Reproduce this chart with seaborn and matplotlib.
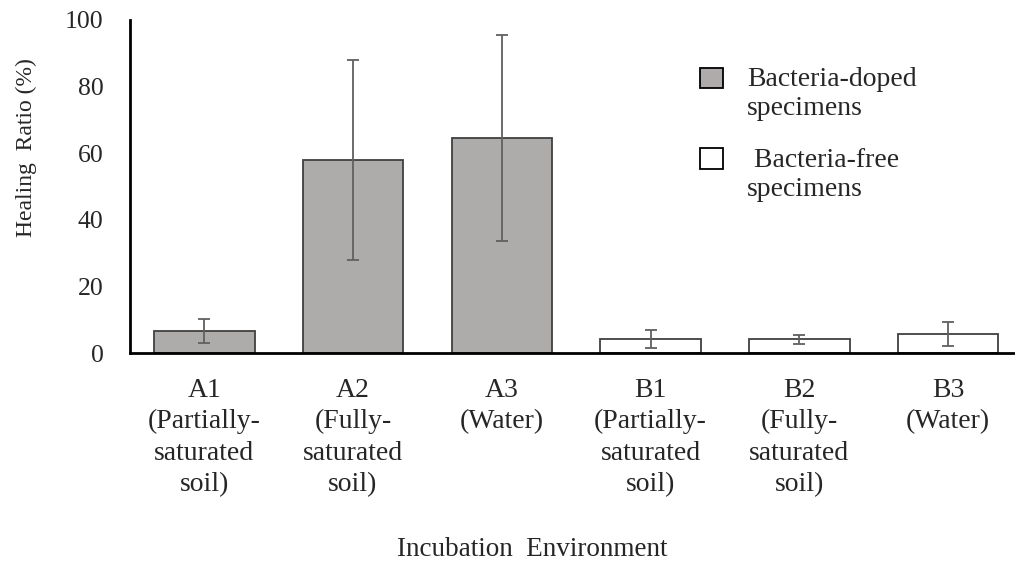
import matplotlib.pyplot as plt
import matplotlib.patches as mpatches
from matplotlib.legend_handler import HandlerPatch
import seaborn as sns
import pandas as pd
import numpy as np

categories = ["A1\n(Partially-\nsaturated\nsoil)", "A2\n(Fully-\nsaturated\nsoil)", "A3\n(Water)",
              "B1\n(Partially-\nsaturated\nsoil)", "B2\n(Fully-\nsaturated\nsoil)", "B3\n(Water)"]
groups = ["doped"] * 3 + ["free"] * 3
group_labels = ["Bacteria-doped\nspecimens", " Bacteria-free\nspecimens"]
healing = [6.6, 58.0, 64.5, 4.2, 4.1, 5.6]
err = [3.6, 30.0, 31.0, 2.6, 1.3, 3.6]

DOPED_COLOR = "#aeabaa"
FREE_COLOR = "#ffffff"
EDGE = "#404040"
FS = 20

sns.set_style("white")
plt.rcParams["font.family"] = ["Liberation Serif", "DejaVu Serif"]

df = pd.DataFrame({"cat": categories, "group": groups, "val": healing})

fig = plt.figure(figsize=(10.15, 5.63), dpi=100)
ax = fig.add_axes([0.128, 0.373, 0.872, 0.592])

sns.barplot(
    data=df, x="cat", y="val", hue="group",
    palette=[DOPED_COLOR, FREE_COLOR], dodge=False, legend=False,
    width=0.675, edgecolor=EDGE, linewidth=1.3, errorbar=None, ax=ax
)
ax.errorbar(np.arange(len(healing)), healing, yerr=err, fmt="none",
            ecolor="#606060", elinewidth=1.3, capsize=4.3, capthick=1.3)

ax.set_xlim(-0.5, 5.45)
ax.set_ylim(0, 100)
ax.set_yticks(range(0, 101, 20))

# labels centred under bars, tick marks between categories
ax.set_xticks(range(len(categories)))
ax.set_xticklabels(categories, linespacing=1.33)
ax.set_xticks(np.arange(-0.5, 5.5, 1), minor=True)
ax.tick_params(axis="x", which="major", length=0, pad=18, labelsize=FS)
ax.tick_params(axis="x", which="minor", length=7, width=2, direction="out", color="black")
ax.tick_params(axis="y", length=7, width=2, direction="out", color="black", labelsize=18.5, pad=12)

for s in ["top", "right"]:
    ax.spines[s].set_visible(False)
for s in ["left", "bottom"]:
    ax.spines[s].set_linewidth(2)
    ax.spines[s].set_color("black")

ax.set_xlabel("Incubation  Environment", fontsize=19.5)
ax.xaxis.set_label_coords(0.455, -0.552)
ax.set_ylabel("Healing  Ratio (%)", fontsize=17)
ax.yaxis.set_label_coords(-0.105, 0.616)


def top_patch(legend, orig_handle, xdescent, ydescent, width, height, fontsize):
    # align the square with the first line of a two-line label
    return mpatches.Rectangle((-xdescent, -ydescent + 11.5), width, height)


handles = [mpatches.Patch(facecolor=c, edgecolor="black", linewidth=1.3)
           for c in [DOPED_COLOR, FREE_COLOR]]
ax.legend(handles, group_labels, loc="upper left", bbox_to_anchor=(0.644, 0.858),
          frameon=False, fontsize=FS, handlelength=0.83, handleheight=0.75,
          labelspacing=0.97, handletextpad=0.86, borderpad=0, borderaxespad=0,
          handler_map={mpatches.Patch: HandlerPatch(patch_func=top_patch)})

fig.savefig("out.png", dpi=100)
